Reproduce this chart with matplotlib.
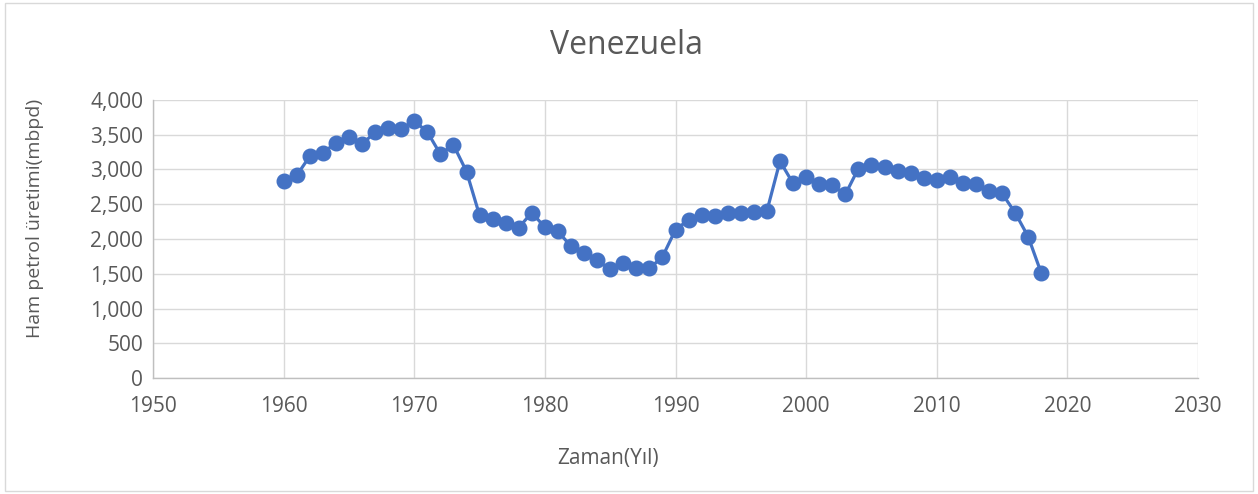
import matplotlib
matplotlib.use("Agg")
import matplotlib.pyplot as plt
from matplotlib.patches import Rectangle
from matplotlib.ticker import FuncFormatter

years = list(range(1960, 2019))
production = [2837, 2914, 3191, 3239, 3383, 3469, 3364, 3536, 3598, 3584,
              3699, 3541, 3220, 3354, 2971, 2340, 2282, 2235, 2163, 2381,
              2167, 2110, 1895, 1800, 1695, 1562, 1657, 1586, 1576, 1743,
              2133, 2276, 2348, 2324, 2371, 2371, 2386, 2404, 3120, 2800,
              2895, 2785, 2775, 2641, 3014, 3062, 3038, 2981, 2952, 2880,
              2856, 2885, 2799, 2785, 2689, 2656, 2378, 2033, 1510]
title = "Venezuela"
xlabel = "Zaman(Yıl)"
ylabel = "Ham petrol üretimi(mbpd)"

plt.rcParams['font.family'] = ['Open Sans', 'DejaVu Sans']
txt = '#595959'
W, H = 1258, 494
fig = plt.figure(figsize=(W/100, H/100), dpi=100)
fig.patches.append(Rectangle((5/W, 3/H), 1-10/W, 1-6/H, transform=fig.transFigure,
                             fill=False, edgecolor='#d9d9d9', linewidth=1))
ax = fig.add_axes([153/W, 1-378/H, (1198-153)/W, (378-100)/H])
ax.plot(years, production, color='#4472C4', linewidth=2.3, marker='o',
        markersize=10.5, zorder=3, clip_on=False)
ax.set_xlim(1950, 2030)
ax.set_ylim(0, 4000)
ax.set_xticks(range(1950, 2031, 10))
ax.set_yticks(range(0, 4001, 500))
ax.yaxis.set_major_formatter(FuncFormatter(lambda v, p: f"{int(v):,}"))
ax.grid(True, color='#d9d9d9', linewidth=1)
ax.set_axisbelow(True)
for s in ['top', 'right']:
    ax.spines[s].set_visible(False)
for s in ['left', 'bottom']:
    ax.spines[s].set_color('#bfbfbf')
    ax.spines[s].set_linewidth(1)
ax.tick_params(length=0, labelsize=15, colors=txt, pad=7)
ax.tick_params(axis='x', pad=13)
fig.text(627/W, 1-45/H, title, fontsize=23, color=txt, ha='center', va='center')
fig.text(608/W, 1-458/H, xlabel, fontsize=15, color=txt, ha='center', va='center')
fig.text(35/W, 1-218/H, ylabel, fontsize=14, color=txt, ha='center', va='center',
         rotation=90)
fig.savefig("out.png", dpi=100)
